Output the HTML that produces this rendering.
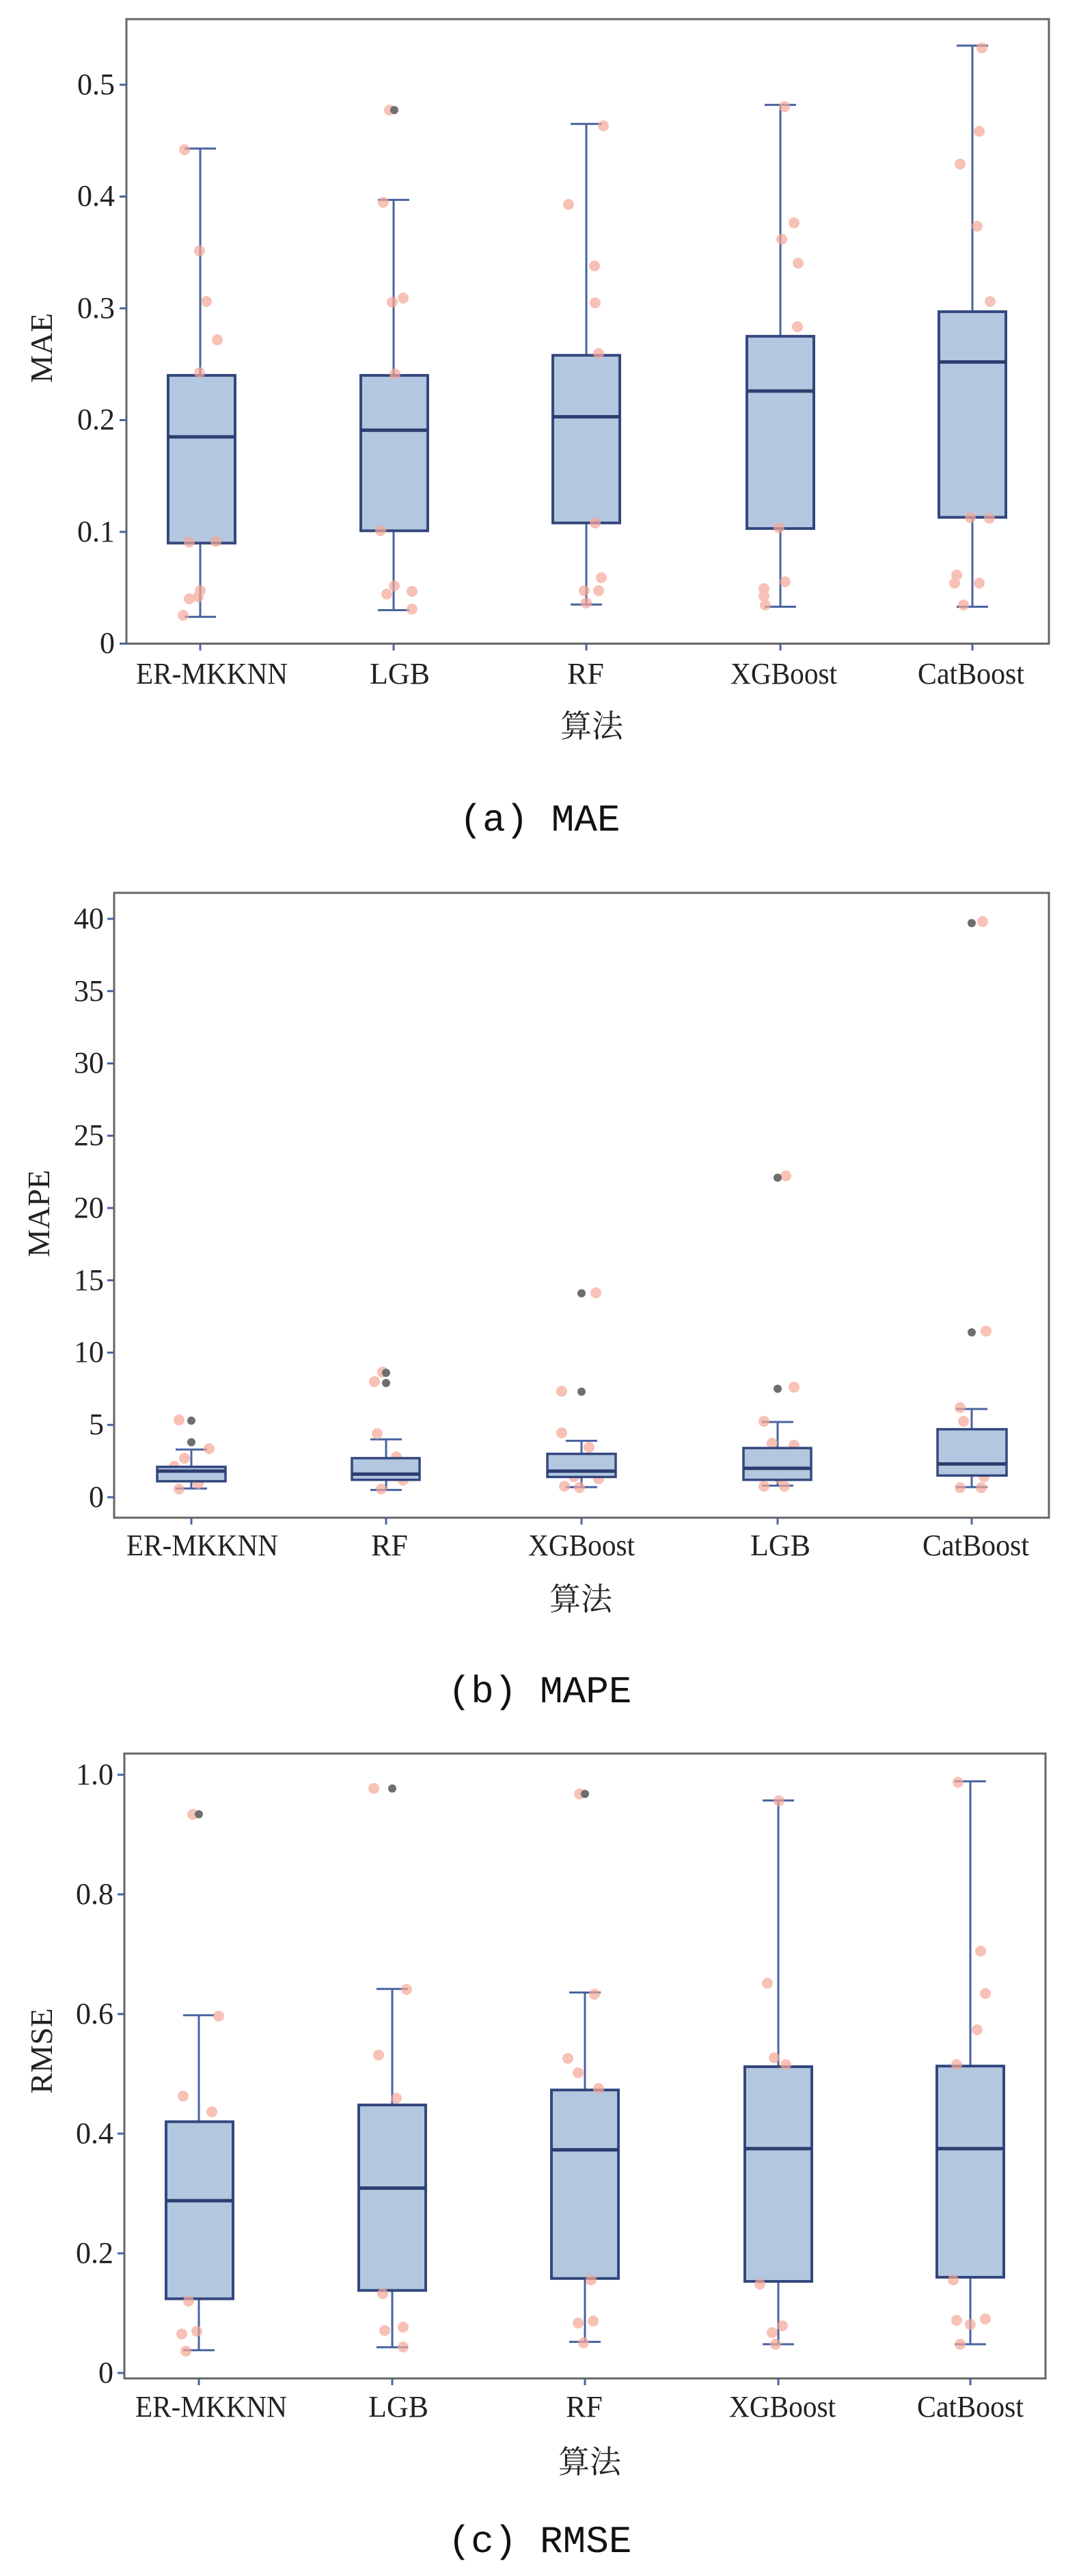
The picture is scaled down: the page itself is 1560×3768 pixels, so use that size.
<!DOCTYPE html>
<html><head><meta charset="utf-8"><style>html,body{margin:0;padding:0;background:#fff}svg{display:block}</style></head><body>
<svg width="1560" height="3768" viewBox="0 0 1560 3768" xmlns="http://www.w3.org/2000/svg" font-family="'Liberation Serif','Noto Serif CJK SC',serif">
<style>
.fr{fill:none;stroke:#666;stroke-width:3}
.bx{fill:#b3c8e0;stroke:#34477e;stroke-width:4}
.md{stroke:#2c3d70;stroke-width:5}
.wh{stroke:#4a63a0;stroke-width:3;fill:none}
.pk{fill:#f5a898;opacity:0.7}
.gr{fill:#6e6e6e}
.tk{font-size:44px;fill:#222}
.xl{font-size:44px;fill:#222}
.al{font-size:46px;fill:#222}
.cap{font-size:56px;fill:#111;font-family:'Liberation Mono','Noto Sans CJK SC',monospace}
</style>

<!-- Panel A -->
<rect class="fr" x="185" y="28" width="1350" height="913.5"/>
<g class="tk" text-anchor="end">
<text x="168" y="955">0</text><text x="168" y="792">0.1</text><text x="168" y="628">0.2</text><text x="168" y="465">0.3</text><text x="168" y="301">0.4</text><text x="168" y="138">0.5</text>
</g>
<g class="wh">
<path d="M185 941.5h-10M185 778h-10M185 614.5h-10M185 451h-10M185 287.5h-10M185 124h-10"/>
<path d="M293 941.5v10M576 941.5v10M858 941.5v10M1142 941.5v10M1423 941.5v10"/>
<path d="M293 902.3V217.2M270 902.3h46M270 217.2h46"/>
<path d="M576 892.5V292.4M553 892.5h46M553 292.4h46"/>
<path d="M858 884.3V181.2M835 884.3h46M835 181.2h46"/>
<path d="M1142 887.5V153.4M1119 887.5h46M1119 153.4h46"/>
<path d="M1423 887.5V66.8M1400 887.5h46M1400 66.8h46"/>
</g>
<rect class="bx" x="246" y="549.1" width="98" height="245.3"/>
<rect class="bx" x="528" y="549.1" width="98" height="227.3"/>
<rect class="bx" x="809" y="519.7" width="98" height="245.2"/>
<rect class="bx" x="1093" y="491.9" width="98" height="281.2"/>
<rect class="bx" x="1374" y="455.9" width="98" height="300.8"/>
<path class="md" d="M246 639h98M528 629.2h98M809 609.6h98M1093 572h98M1374 529.5h98"/>
<g class="pk">
<circle cx="270" cy="219" r="8"/><circle cx="292" cy="367" r="8"/><circle cx="302" cy="441" r="8"/><circle cx="318" cy="497" r="8"/><circle cx="292" cy="545" r="8"/><circle cx="277" cy="793" r="8"/><circle cx="316" cy="792" r="8"/><circle cx="293" cy="864" r="8"/><circle cx="277" cy="876" r="8"/><circle cx="290" cy="873" r="8"/><circle cx="268" cy="900" r="8"/>
<circle cx="570" cy="161" r="8"/><circle cx="561" cy="296" r="8"/><circle cx="590" cy="436" r="8"/><circle cx="574" cy="442" r="8"/><circle cx="578" cy="547" r="8"/><circle cx="557" cy="776" r="8"/><circle cx="577" cy="857" r="8"/><circle cx="566" cy="869" r="8"/><circle cx="603" cy="865" r="8"/><circle cx="603" cy="891" r="8"/>
<circle cx="883" cy="184" r="8"/><circle cx="832" cy="299" r="8"/><circle cx="870" cy="389" r="8"/><circle cx="871" cy="443" r="8"/><circle cx="876" cy="517" r="8"/><circle cx="871" cy="765" r="8"/><circle cx="880" cy="845" r="8"/><circle cx="855" cy="864" r="8"/><circle cx="876" cy="864" r="8"/><circle cx="858" cy="882" r="8"/>
<circle cx="1148" cy="156" r="8"/><circle cx="1162" cy="326" r="8"/><circle cx="1144" cy="350" r="8"/><circle cx="1168" cy="385" r="8"/><circle cx="1167" cy="478" r="8"/><circle cx="1140" cy="772" r="8"/><circle cx="1149" cy="851" r="8"/><circle cx="1118" cy="861" r="8"/><circle cx="1118" cy="872" r="8"/><circle cx="1120" cy="885" r="8"/>
<circle cx="1437" cy="70" r="8"/><circle cx="1433" cy="192" r="8"/><circle cx="1405" cy="240" r="8"/><circle cx="1430" cy="331" r="8"/><circle cx="1449" cy="441" r="8"/><circle cx="1420" cy="757" r="8"/><circle cx="1448" cy="758" r="8"/><circle cx="1400" cy="841" r="8"/><circle cx="1397" cy="853" r="8"/><circle cx="1433" cy="853" r="8"/><circle cx="1410" cy="885" r="8"/>
</g>
<circle class="gr" cx="577" cy="161" r="6"/>
<g class="xl" text-anchor="middle">
<text x="310" y="1000" textLength="222" lengthAdjust="spacingAndGlyphs">ER-MKKNN</text>
<text x="585" y="1000">LGB</text><text x="857" y="1000">RF</text>
<text x="1147" y="1000" textLength="156" lengthAdjust="spacingAndGlyphs">XGBoost</text>
<text x="1421" y="1000" textLength="156" lengthAdjust="spacingAndGlyphs">CatBoost</text>
</g>
<text class="al" x="866" y="1078" text-anchor="middle">算法</text>
<text class="al" transform="translate(76 509) rotate(-90)" text-anchor="middle">MAE</text>
<text class="cap" x="790" y="1215" text-anchor="middle">(a) MAE</text>

<!-- Panel B -->
<rect class="fr" x="167" y="1306" width="1368" height="914"/>
<g class="tk" text-anchor="end">
<text x="152" y="2204">0</text><text x="152" y="2098">5</text><text x="152" y="1992">10</text><text x="152" y="1887">15</text><text x="152" y="1781">20</text><text x="152" y="1675">25</text><text x="152" y="1569">30</text><text x="152" y="1464">35</text><text x="152" y="1358">40</text>
</g>
<g class="wh">
<path d="M167 2190h-10M167 2084.25h-10M167 1978.5h-10M167 1872.75h-10M167 1767h-10M167 1661.25h-10M167 1555.5h-10M167 1449.75h-10M167 1344h-10"/>
<path d="M280 2220v10M565 2220v10M851 2220v10M1138 2220v10M1422 2220v10"/>
<path d="M280 2177.3V2120.2M257 2177.3h46M257 2120.2h46"/>
<path d="M565 2179.4V2105.4M542 2179.4h46M542 2105.4h46"/>
<path d="M851 2175.2V2107.5M828 2175.2h46M828 2107.5h46"/>
<path d="M1138 2173.1V2080M1115 2173.1h46M1115 2080h46"/>
<path d="M1422 2175.2V2061M1399 2175.2h46M1399 2061h46"/>
</g>
<g class="pk">
<circle cx="262" cy="2077" r="8"/><circle cx="306" cy="2119" r="8"/><circle cx="270" cy="2133" r="8"/><circle cx="255" cy="2145" r="8"/><circle cx="290" cy="2170" r="8"/><circle cx="262" cy="2178" r="8"/>
<circle cx="548" cy="2021" r="8"/><circle cx="560" cy="2007" r="8"/><circle cx="552" cy="2097" r="8"/><circle cx="580" cy="2131" r="8"/><circle cx="548" cy="2155" r="8"/><circle cx="590" cy="2165" r="8"/><circle cx="558" cy="2178" r="8"/>
<circle cx="822" cy="2035" r="8"/><circle cx="872" cy="1891" r="8"/><circle cx="822" cy="2096" r="8"/><circle cx="862" cy="2117" r="8"/><circle cx="840" cy="2160" r="8"/><circle cx="876" cy="2163" r="8"/><circle cx="826" cy="2174" r="8"/><circle cx="848" cy="2176" r="8"/>
<circle cx="1162" cy="2029" r="8"/><circle cx="1150" cy="1720" r="8"/><circle cx="1118" cy="2079" r="8"/><circle cx="1130" cy="2111" r="8"/><circle cx="1162" cy="2114" r="8"/><circle cx="1140" cy="2162" r="8"/><circle cx="1118" cy="2174" r="8"/><circle cx="1148" cy="2174" r="8"/>
<circle cx="1438" cy="1348" r="8"/><circle cx="1443" cy="1947" r="8"/><circle cx="1405" cy="2059" r="8"/><circle cx="1410" cy="2079" r="8"/><circle cx="1400" cy="2148" r="8"/><circle cx="1440" cy="2160" r="8"/><circle cx="1405" cy="2176" r="8"/><circle cx="1436" cy="2176" r="8"/>
</g>
<rect class="bx" x="230" y="2145.6" width="100" height="21.1" style="stroke-width:3.5"/>
<rect class="bx" x="515" y="2132.9" width="99" height="31.7" style="stroke-width:3.5"/>
<rect class="bx" x="801" y="2126.6" width="100" height="33.8" style="stroke-width:3.5"/>
<rect class="bx" x="1088" y="2118.1" width="99" height="46.5" style="stroke-width:3.5"/>
<rect class="bx" x="1372" y="2090.6" width="101" height="67.7" style="stroke-width:3.5"/>
<path class="md" d="M230 2151.9h100M515 2156.2h99M801 2151.9h100M1088 2147.7h99M1372 2141.4h101"/>
<g class="gr">
<circle cx="280" cy="2078" r="6"/><circle cx="280" cy="2109.6" r="6"/>
<circle cx="565" cy="2008" r="6"/><circle cx="565" cy="2023" r="6"/>
<circle cx="851" cy="1891.8" r="6"/><circle cx="851" cy="2035.6" r="6"/>
<circle cx="1138" cy="1722.6" r="6"/><circle cx="1138" cy="2031.4" r="6"/>
<circle cx="1422" cy="1350.3" r="6"/><circle cx="1422" cy="1948.9" r="6"/>
</g>
<g class="xl" text-anchor="middle">
<text x="296" y="2275" textLength="222" lengthAdjust="spacingAndGlyphs">ER-MKKNN</text>
<text x="570" y="2275">RF</text>
<text x="851" y="2275" textLength="156" lengthAdjust="spacingAndGlyphs">XGBoost</text>
<text x="1142" y="2275">LGB</text>
<text x="1428" y="2275" textLength="156" lengthAdjust="spacingAndGlyphs">CatBoost</text>
</g>
<text class="al" x="850" y="2355" text-anchor="middle">算法</text>
<text class="al" transform="translate(72 1775) rotate(-90)" text-anchor="middle">MAPE</text>
<text class="cap" x="790" y="2490" text-anchor="middle">(b) MAPE</text>

<!-- Panel C -->
<rect class="fr" x="182" y="2565" width="1348" height="914"/>
<g class="tk" text-anchor="end">
<text x="166" y="3485">0</text><text x="166" y="3310">0.2</text><text x="166" y="3135">0.4</text><text x="166" y="2960">0.6</text><text x="166" y="2785">0.8</text><text x="166" y="2610">1.0</text>
</g>
<g class="wh">
<path d="M182 3471h-10M182 3296h-10M182 3121h-10M182 2946h-10M182 2771h-10M182 2596h-10"/>
<path d="M291 3479v10M574 3479v10M856 3479v10M1139 3479v10M1420 3479v10"/>
<path d="M291 3437.8V2947.8M268 3437.8h46M268 2947.8h46"/>
<path d="M574 3433.4V2909.3M551 3433.4h46M551 2909.3h46"/>
<path d="M856 3425.5V2914.5M833 3425.5h46M833 2914.5h46"/>
<path d="M1139 3429V2633.6M1116 3429h46M1116 2633.6h46"/>
<path d="M1420 3429V2605.6M1397 3429h46M1397 2605.6h46"/>
</g>
<rect class="bx" x="243" y="3103.5" width="98" height="259"/>
<rect class="bx" x="525" y="3079" width="98" height="271.3"/>
<rect class="bx" x="807" y="3057.1" width="98" height="275.7"/>
<rect class="bx" x="1090" y="3023" width="98" height="314.1"/>
<rect class="bx" x="1371" y="3022.1" width="98" height="308.9"/>
<path class="md" d="M243 3219h98M525 3200.6h98M807 3144.6h98M1090 3142.9h98M1371 3142.9h98"/>
<g class="pk">
<circle cx="282" cy="2654" r="8"/><circle cx="268" cy="3066" r="8"/><circle cx="320" cy="2949" r="8"/><circle cx="310" cy="3089" r="8"/><circle cx="276" cy="3366" r="8"/><circle cx="266" cy="3414" r="8"/><circle cx="288" cy="3410" r="8"/><circle cx="272" cy="3439" r="8"/>
<circle cx="547" cy="2616" r="8"/><circle cx="595" cy="2910" r="8"/><circle cx="554" cy="3006" r="8"/><circle cx="580" cy="3069" r="8"/><circle cx="560" cy="3355" r="8"/><circle cx="563" cy="3409" r="8"/><circle cx="590" cy="3404" r="8"/><circle cx="590" cy="3433" r="8"/>
<circle cx="848" cy="2624" r="8"/><circle cx="870" cy="2917" r="8"/><circle cx="831" cy="3011" r="8"/><circle cx="846" cy="3032" r="8"/><circle cx="876" cy="3055" r="8"/><circle cx="865" cy="3335" r="8"/><circle cx="846" cy="3398" r="8"/><circle cx="868" cy="3395" r="8"/><circle cx="854" cy="3427" r="8"/>
<circle cx="1140" cy="2634" r="8"/><circle cx="1123" cy="2901" r="8"/><circle cx="1133" cy="3010" r="8"/><circle cx="1150" cy="3020" r="8"/><circle cx="1112" cy="3341" r="8"/><circle cx="1145" cy="3402" r="8"/><circle cx="1130" cy="3412" r="8"/><circle cx="1135" cy="3429" r="8"/>
<circle cx="1402" cy="2607" r="8"/><circle cx="1435" cy="2854" r="8"/><circle cx="1442" cy="2916" r="8"/><circle cx="1430" cy="2969" r="8"/><circle cx="1400" cy="3020" r="8"/><circle cx="1395" cy="3335" r="8"/><circle cx="1400" cy="3394" r="8"/><circle cx="1420" cy="3400" r="8"/><circle cx="1442" cy="3392" r="8"/><circle cx="1405" cy="3429" r="8"/>
</g>
<g class="gr">
<circle cx="291" cy="2653.8" r="6"/><circle cx="574" cy="2616.1" r="6"/><circle cx="856" cy="2624" r="6"/>
</g>
<g class="xl" text-anchor="middle">
<text x="309" y="3535" textLength="222" lengthAdjust="spacingAndGlyphs">ER-MKKNN</text>
<text x="583" y="3535">LGB</text><text x="855" y="3535">RF</text>
<text x="1145" y="3535" textLength="156" lengthAdjust="spacingAndGlyphs">XGBoost</text>
<text x="1420" y="3535" textLength="156" lengthAdjust="spacingAndGlyphs">CatBoost</text>
</g>
<text class="al" x="863" y="3617" text-anchor="middle">算法</text>
<text class="al" transform="translate(76 3000) rotate(-90)" text-anchor="middle">RMSE</text>
<text class="cap" x="790" y="3733" text-anchor="middle">(c) RMSE</text>
</svg>
</body></html>
